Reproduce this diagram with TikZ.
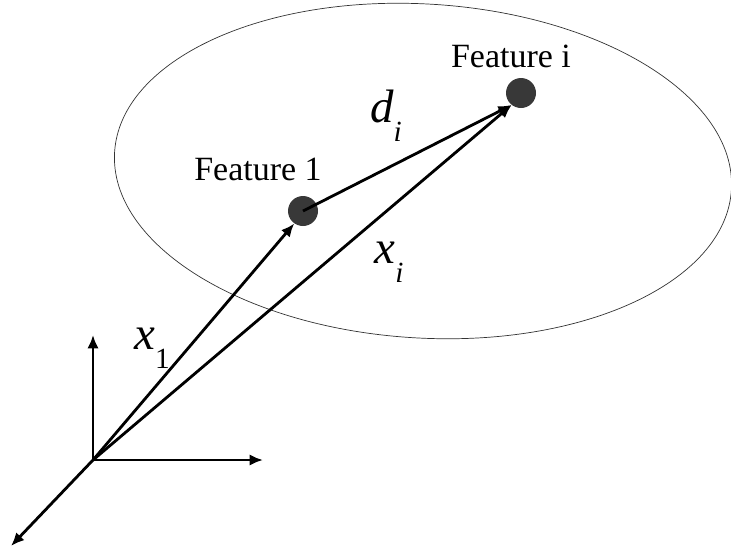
\documentclass[tikz,border=0pt]{standalone}
\usepackage{fontspec}
\setmainfont{Liberation Serif}
\usepackage{tikz}
\usetikzlibrary{calc, arrows.meta, positioning}

% label with a subscript, set in the text font
\newcommand{\sublab}[2]{{\fontsize{40}{44}\selectfont\textit{#1}\raisebox{-0.4em}{\fontsize{25}{28}\selectfont #2}}}

\begin{document}
\begin{tikzpicture}[>={Latex[length=4mm, width=3.4mm]}, x=0.03cm, y=-0.03cm,
    featdot/.style={circle, fill=black!78, inner sep=0pt, minimum size=0.9cm},
    feattxt/.style={font=\fontsize{29}{34}\selectfont},
    vec/.style={->, line width=2.4pt}]

    \useasboundingbox (0,0) rectangle (731,550);

    % =================================================================
    % 1. ELLIPSE AROUND THE FEATURES
    % =================================================================
    \draw[line width=0.6pt, black!80] (423,171) ellipse[x radius=309, y radius=167, rotate=-3.5];

    % =================================================================
    % 2. FEATURE POINTS
    % =================================================================
    \node[featdot] (f1) at (303,211) {};
    \node[featdot] (fi) at (521,93) {};
    \node[feattxt] (f1txt) at (258,169) {Feature 1};
    \node[feattxt] (fitxt) at (511,56) {Feature i};

    % =================================================================
    % 3. AXES AT THE ORIGIN
    % =================================================================
    \coordinate (O) at (93,460);
    \coordinate (ax) at (263,460);
    \coordinate (ay) at (93,335);
    \coordinate (az) at (11,546);
    \draw[vec] (O) -- (ax);
    \draw[vec] (O) -- (ay);
    \draw[vec] (O) -- (az);

    % =================================================================
    % 4. VECTORS
    % =================================================================
    \coordinate (tip) at (fi.-128);
    \draw[vec] (O) -- (f1.-125);
    \draw[vec] (O) -- (tip);
    \draw[vec] (f1.center) -- (tip);

    \node (x1lab) at (152,348) {\sublab{x}{1}};
    \node (xilab) at (389,262) {\sublab{x}{\textit{i}}};
    \node (dilab) at (386,116) {\sublab{d}{\textit{i}}};

\end{tikzpicture}
\end{document}
